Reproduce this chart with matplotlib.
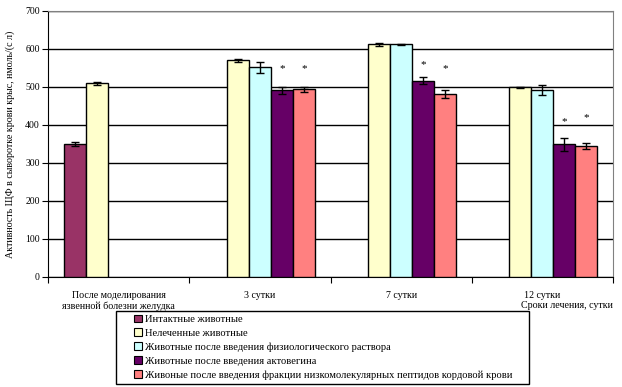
import numpy as np
import matplotlib
matplotlib.use("Agg")
import matplotlib.pyplot as plt
from matplotlib.patches import Patch, Rectangle

plt.rcParams["font.family"] = ["Liberation Serif", "DejaVu Serif"]

categories = ["После моделирования\nязвенной болезни желудка", "3 сутки", "7 сутки", "12 сутки"]
series_names = [
    "Интактные животные",
    "Нелеченные животные",
    "Животные после введения физиологического раствора",
    "Животные после введения актовегина",
    "Живоные после введения фракции низкомолекулярных пептидов кордовой крови",
]
colors = ["#993366", "#FFFFCC", "#CCFFFF", "#660066", "#FF8080"]

nan = np.nan
intact = [351, nan, nan, nan]
intact_err = [5, nan, nan, nan]
untreated = [510, 570, 612, 499]
untreated_err = [4, 4, 3, 1]
saline = [nan, 552, 612, 492]
saline_err = [nan, 14, 1, 12]
actovegin = [nan, 491, 517, 349]
actovegin_err = [nan, 10, 10, 18]
peptides = [nan, 494, 481, 345]
peptides_err = [nan, 7, 10, 7]

# asterisks (significance) heights
star_acto = [nan, 549, 560, 408]
star_pept = [nan, 549, 549, 420]

values = [intact, untreated, saline, actovegin, peptides]
errors = [intact_err, untreated_err, saline_err, actovegin_err, peptides_err]
stars = {3: star_acto, 4: star_pept}

fig = plt.figure(figsize=(6.22, 3.87), dpi=100)
ax = fig.add_axes([48 / 622, 1 - 277 / 387, 565 / 622, 266 / 387])

x = np.arange(len(categories))
w = 0.156
for k, (vals, errs) in enumerate(zip(values, errors)):
    pos = x + (k - 2) * w
    v = np.array(vals, dtype=float)
    e = np.array(errs, dtype=float)
    m = ~np.isnan(v)
    ax.bar(pos[m], v[m], width=w, color=colors[k], edgecolor="black", linewidth=1, zorder=3)
    ax.errorbar(pos[m], v[m], yerr=e[m], fmt="none", ecolor="black", elinewidth=1,
                capsize=3, capthick=1, zorder=4)
    if k in stars:
        s = np.array(stars[k], dtype=float)
        ms = ~np.isnan(s)
        for px, py in zip(pos[ms], s[ms]):
            ax.text(px, py, "*", ha="center", va="center", fontsize=8, zorder=5)

ax.set_xlim(-0.5, 3.5)
ax.set_ylim(0, 700)
ax.set_yticks(np.arange(0, 701, 100))
ax.yaxis.grid(True, color="black", linewidth=1, zorder=0)
ax.tick_params(axis="y", direction="out", length=4, labelsize=7, pad=2)

ax.set_xticks(np.arange(-0.5, 3.6, 1))
ax.set_xticklabels([])
ax.tick_params(axis="x", which="major", direction="out", length=4)
ax.set_xticks(x, minor=True)
ax.set_xticklabels(categories, minor=True, fontsize=7.2, linespacing=1.2)
ax.tick_params(axis="x", which="minor", length=0, pad=10)

for side in ["top", "right"]:
    ax.spines[side].set_color("#808080")
ax.spines["left"].set_color("black")
ax.spines["bottom"].set_color("black")

ax.set_ylabel("Активность ЩФ в сыворотке крови крыс, нмоль/(с л)", fontsize=7.2, labelpad=7)

fig.text(613 / 622, 1 - 305 / 387, "Сроки лечения, сутки", ha="right", va="center", fontsize=7.2)

# legend box drawn separately so the entries can sit indented as in the original
fig.add_artist(Rectangle((116 / 622, 1 - 384 / 387), 413 / 622, 73 / 387,
                         transform=fig.transFigure, facecolor="none",
                         edgecolor="black", linewidth=1))
handles = [Patch(facecolor=c, edgecolor="black", linewidth=0.8) for c in colors]
leg = fig.legend(handles, series_names, loc="upper left",
                 bbox_to_anchor=(134 / 622, 1 - 314.5 / 387), fontsize=7.6,
                 frameon=False, handlelength=0.75, handleheight=0.75, handletextpad=0.25,
                 labelspacing=0.42, borderpad=0, borderaxespad=0)

fig.savefig("out.png", dpi=100)
